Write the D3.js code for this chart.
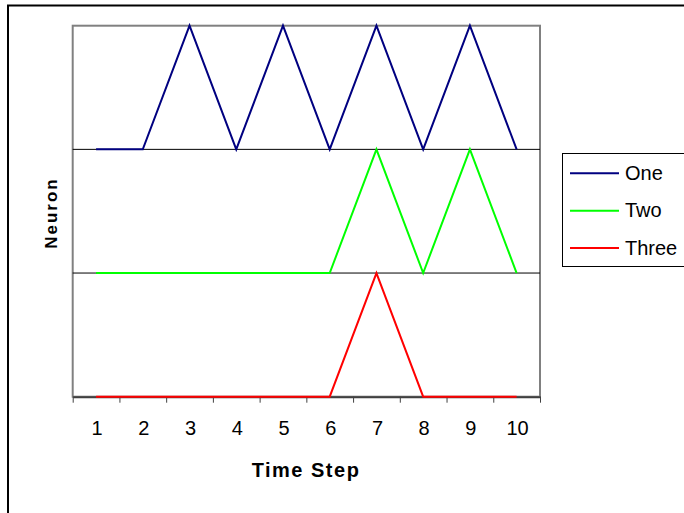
<!DOCTYPE html>
<html>
<head>
<meta charset="utf-8">
<script src="https://cdn.jsdelivr.net/npm/d3@7"></script>
<style>
  body { margin: 0; background: #fff; }
  text { font-family: "Liberation Sans", Arial, sans-serif; }
</style>
</head>
<body>
<div id="chart"></div>
<script>
// time steps along the x axis
var steps = [1, 2, 3, 4, 5, 6, 7, 8, 9, 10];
// firing of each neuron per step (0 = rest, 1 = spike)
var one   = [0, 0, 1, 0, 1, 0, 1, 0, 1, 0];
var two   = [0, 0, 0, 0, 0, 0, 1, 0, 1, 0];
var three = [0, 0, 0, 0, 0, 0, 1, 0, 0, 0];
var names = ["One", "Two", "Three"];
var lanes = [2, 1, 0];   // which stripe each neuron sits in
var colors = ["#000080", "#00ff00", "#ff0000"];
var series = [one, two, three];

var W = 684, H = 513;
var plotL = 72.7, plotR = 540, plotT = 25.7, plotB = 396.7;

var svg = d3.select("#chart").append("svg")
  .attr("width", W)
  .attr("height", H);

// outer frame
svg.append("rect")
  .attr("x", 8).attr("y", 5.5)
  .attr("width", 700).attr("height", 530)
  .attr("fill", "none")
  .attr("stroke", "#000")
  .attr("stroke-width", 2);

var x = d3.scaleBand().domain(steps).range([plotL, plotR]).padding(0);
var y = d3.scaleLinear().domain([0, 3]).range([plotB, plotT]);
var cx = function(d) { return x(d) + x.bandwidth() / 2; };

// plot border (grey)
svg.append("rect")
  .attr("x", plotL).attr("y", plotT)
  .attr("width", plotR - plotL).attr("height", plotB - plotT)
  .attr("fill", "none")
  .attr("stroke", "#808080")
  .attr("stroke-width", 2);

// stripe separators
svg.selectAll(".grid").data([1, 2]).enter().append("line")
  .attr("x1", plotL).attr("x2", plotR)
  .attr("y1", function(d) { return y(d); })
  .attr("y2", function(d) { return y(d); })
  .attr("stroke", "#000")
  .attr("stroke-width", 1);

// x axis: ticks on the boundaries between steps
var xb = d3.scaleLinear().domain([0, steps.length]).range([plotL, plotR]);
var ax = svg.append("g")
  .attr("transform", "translate(0," + plotB + ")")
  .call(d3.axisBottom(xb).ticks(10).tickSize(6).tickSizeOuter(0).tickFormat(""));
ax.select(".domain").attr("stroke", "#404040").attr("stroke-width", 2);
ax.selectAll(".tick line").attr("stroke", "#404040").attr("stroke-width", 1);

svg.selectAll(".xlab").data(steps).enter().append("text")
  .attr("x", function(d) { return cx(d) + 1; })
  .attr("y", 435)
  .attr("text-anchor", "middle")
  .style("font-size", "20px")
  .text(function(d) { return d; });

// lines
var line = d3.line()
  .x(function(d, i) { return cx(steps[i]); })
  .y(function(d) { return y(d); });

for (var s = 0; s < series.length; s++) {
  var vals = series[s].map(function(v) { return v + lanes[s]; });
  svg.append("path")
    .datum(vals)
    .attr("d", line)
    .attr("fill", "none")
    .attr("stroke", colors[s])
    .attr("stroke-width", 2);
}

// axis titles
svg.append("text")
  .attr("x", 306).attr("y", 476.5)
  .attr("text-anchor", "middle")
  .style("font-size", "20px")
  .style("font-weight", "bold")
  .style("letter-spacing", "1.5px")
  .text("Time Step");

svg.append("text")
  .attr("transform", "translate(57,213) rotate(-90)")
  .attr("text-anchor", "middle")
  .style("font-size", "17px")
  .style("font-weight", "bold")
  .style("letter-spacing", "2px")
  .text("Neuron");

// legend
var lg = svg.append("g");
lg.append("rect")
  .attr("x", 562.5).attr("y", 153.5)
  .attr("width", 130).attr("height", 113)
  .attr("fill", "#fff")
  .attr("stroke", "#000")
  .attr("stroke-width", 1);

var rows = lg.selectAll(".row").data(names).enter().append("g")
  .attr("transform", function(d, i) { return "translate(0," + (173.3 + i * 37.4) + ")"; });
rows.append("line")
  .attr("x1", 570).attr("x2", 619)
  .attr("y1", 0).attr("y2", 0)
  .attr("stroke", function(d, i) { return colors[i]; })
  .attr("stroke-width", 2);
rows.append("text")
  .attr("x", 625).attr("y", 6.5)
  .style("font-size", "20px")
  .text(function(d) { return d; });
</script>
</body>
</html>
